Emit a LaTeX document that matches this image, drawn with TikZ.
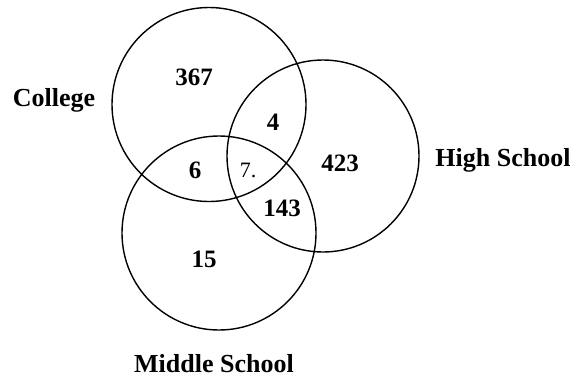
\documentclass[tikz,border=0pt]{standalone}
\usepackage{fontspec}
\setmainfont{Liberation Serif}
\begin{document}
\begin{tikzpicture}[x=1pt,y=-1pt,
  ring/.style={draw=black,line width=1.4pt},
  lab/.style={font=\fontsize{26}{30}\selectfont\bfseries,inner sep=0pt},
  num/.style={font=\fontsize{25}{30}\selectfont\bfseries,inner sep=0pt},
  thin/.style={font=\fontsize{22}{26}\selectfont,inner sep=0pt}]
\useasboundingbox (0,0) rectangle (578,378);
\fill[white] (0,0) rectangle (578,378);
\node[ring,circle,minimum size=194pt,inner sep=0pt] (college) at (209,104.5) {};
\node[ring,circle,minimum size=192pt,inner sep=0pt] (high) at (323,156) {};
\node[ring,circle,minimum size=194pt,inner sep=0pt] (middle) at (219,233) {};
\node[lab] (lcollege) at (54,100) {College};
\node[lab] (lhigh) at (503,160) {High School};
\node[lab] (lmiddle) at (214,364) {Middle School};
\node[num] (n367) at (194,77) {367};
\node[num] (n4) at (273,122) {4};
\node[num] (n6) at (195,170) {6};
\node[thin] (n7) at (248,170) {7.};
\node[num] (n423) at (340,163) {423};
\node[num] (n143) at (282,208) {143};
\node[num] (n15) at (204,259) {15};
\end{tikzpicture}
\end{document}
